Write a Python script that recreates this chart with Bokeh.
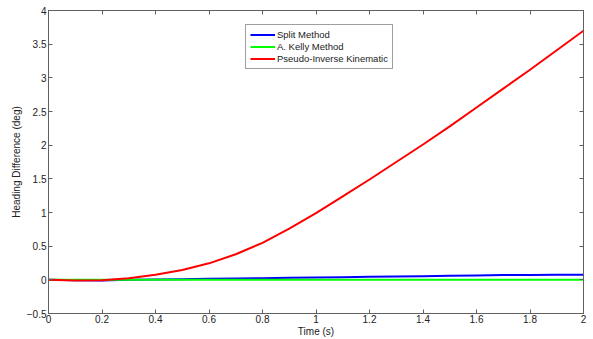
from bokeh.plotting import figure
from bokeh.models import LinearAxis, Range1d, FixedTicker, Legend, LegendItem, CustomJSTickFormatter
from bokeh.embed import file_html
from bokeh.resources import INLINE

time_s = [0.0, 0.1, 0.2, 0.3, 0.4, 0.5, 0.6, 0.7, 0.8, 0.9, 1.0,
          1.1, 1.2, 1.3, 1.4, 1.5, 1.6, 1.7, 1.8, 1.9, 2.0]
split_method = [0.0, -0.005, -0.01, 0.0, 0.005, 0.01, 0.015, 0.02, 0.025, 0.03, 0.035,
                0.04, 0.045, 0.05, 0.055, 0.06, 0.065, 0.07, 0.072, 0.075, 0.077]
kelly_method = [0.0, 0.0, 0.0, 0.0, 0.0, 0.0, 0.0, 0.0, 0.0, 0.0, 0.0,
                0.0, 0.0, 0.0, 0.0, 0.0, 0.0, 0.0, 0.0, 0.0, 0.0]
pseudo_inverse = [0.0, -0.01, -0.005, 0.025, 0.075, 0.145, 0.245, 0.38, 0.55, 0.76, 0.99,
                  1.24, 1.49, 1.75, 2.01, 2.28, 2.56, 2.84, 3.12, 3.41, 3.70]

x_ticks = [0, 0.2, 0.4, 0.6, 0.8, 1.0, 1.2, 1.4, 1.6, 1.8, 2.0]
y_ticks = [-0.5, 0, 0.5, 1, 1.5, 2, 2.5, 3, 3.5, 4]
series_names = ["Split Method", "A. Kelly Method", "Pseudo-Inverse Kinematic"]

FONT = "Liberation Sans"
AX = "#606060"

p = figure(width=593, height=339, output_backend="svg", toolbar_location=None,
           x_range=Range1d(0, 2), y_range=Range1d(-0.5, 4),
           x_axis_location=None, y_axis_location=None,
           min_border_left=48, min_border_right=10, min_border_top=10, min_border_bottom=26)
p.background_fill_color = "white"
p.border_fill_color = "white"
p.outline_line_color = AX
p.outline_line_width = 1
p.xgrid.visible = False
p.ygrid.visible = False


def style(ax, labels=True):
    ax.axis_line_color = AX
    ax.axis_line_width = 1
    ax.major_tick_line_color = AX
    ax.major_tick_in = 4
    ax.major_tick_out = 0
    ax.minor_tick_line_color = None
    ax.major_label_text_font = FONT
    ax.major_label_text_font_size = "10px"
    ax.major_label_text_color = "#222222"
    ax.major_label_standoff = 2
    ax.axis_label_text_font = FONT
    ax.axis_label_text_font_size = "10px"
    ax.axis_label_text_font_style = "normal"
    ax.axis_label_text_color = "#222222"
    ax.axis_label_standoff = 2
    if not labels:
        ax.formatter = CustomJSTickFormatter(code="return '';")
        ax.major_label_standoff = 0


xb = LinearAxis(ticker=FixedTicker(ticks=x_ticks), axis_label="Time (s)")
style(xb)
xb.major_label_standoff = 1
xb.axis_label_standoff = 0
yl = LinearAxis(ticker=FixedTicker(ticks=y_ticks), axis_label="Heading Difference (deg)")
style(yl)
xt = LinearAxis(ticker=FixedTicker(ticks=x_ticks))
style(xt, labels=False)
yr = LinearAxis(ticker=FixedTicker(ticks=y_ticks))
style(yr, labels=False)

p.add_layout(xb, "below")
p.add_layout(yl, "left")
p.add_layout(xt, "above")
p.add_layout(yr, "right")

r1 = p.line(time_s, split_method, line_color="#0000FF", line_width=2)
r2 = p.line(time_s, kelly_method, line_color="#00FF00", line_width=2)
r3 = p.line(time_s, pseudo_inverse, line_color="#FF0000", line_width=2)

legend = Legend(items=[LegendItem(label=series_names[0], renderers=[r1]),
                       LegendItem(label=series_names[1], renderers=[r2]),
                       LegendItem(label=series_names[2], renderers=[r3])],
                location=(197, 244))
legend.label_text_font = FONT
legend.label_text_font_size = "9.5px"
legend.label_text_color = "#222222"
legend.label_height = 11
legend.glyph_height = 11
legend.glyph_width = 25
legend.label_standoff = 2
legend.spacing = 1
legend.padding = 4
legend.margin = 0
legend.border_line_color = "#404040"
legend.border_line_width = 1
legend.background_fill_color = "white"
p.add_layout(legend, "center")

open("out.html", "w").write(file_html(p, INLINE))
